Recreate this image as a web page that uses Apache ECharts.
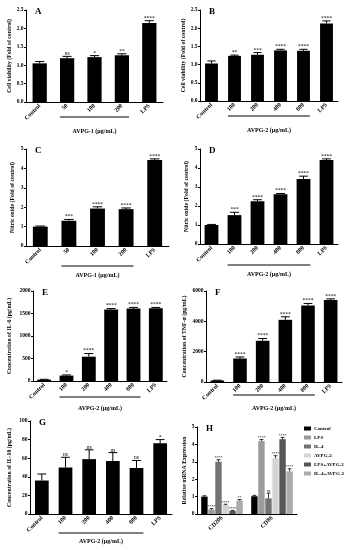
<!DOCTYPE html>
<html><head><meta charset="utf-8">
<script src="https://cdn.jsdelivr.net/npm/echarts@6/dist/echarts.min.js"></script>
<style>html,body{margin:0;padding:0;background:#fff}#c{width:349px;height:550px}</style>
</head><body><div id="c"></div>
<script>
// ---------- DATA ----------
const catsA = ['Control','50','100','200','LPS'];
const valsA = [1.05,1.19,1.22,1.27,2.15];
const errsA = [0.05,0.05,0.04,0.04,0.06];
const sigsA = ['','ns','*','**','****'];
const yAxisA = [0,2.5,0.5];

const catsB = ['Control','100','200','400','800','LPS'];
const valsB = [1.03,1.24,1.27,1.39,1.38,2.13];
const errsB = [0.07,0.02,0.06,0.03,0.04,0.07];
const sigsB = ['','**','***','****','****','****'];
const yAxisB = [0,2.5,0.5];

const catsC = ['Control','50','100','200','LPS'];
const valsC = [1.0,1.3,1.93,1.9,4.43];
const errsC = [0.03,0.07,0.09,0.06,0.06];
const sigsC = ['','***','****','****','****'];
const yAxisC = [0,5,1];

const catsD = ['Control','100','200','400','800','LPS'];
const valsD = [1.0,1.52,2.25,2.62,3.42,4.42];
const errsD = [0.03,0.15,0.08,0.04,0.15,0.06];
const sigsD = ['','***','****','****','****','****'];
const yAxisD = [0,5,1];

const catsE = ['Control','100','200','400','800','LPS'];
const valsE = [30,120,540,1590,1610,1615];
const errsE = [8,15,70,20,25,20];
const sigsE = ['','*','****','****','****','****'];
const yAxisE = [0,2000,500];

const catsF = ['Control','100','200','400','800','LPS'];
const valsF = [100,1550,2720,4100,5050,5400];
const errsF = [20,100,150,200,130,80];
const sigsF = ['','****','****','****','****','****'];
const yAxisF = [0,6000,2000];

const catsG = ['Control','100','200','400','800','LPS'];
const valsG = [36,50,59,57,49.5,76];
const errsG = [7,11,10,9,8,4];
const sigsG = ['','ns','ns','ns','ns','*'];
const yAxisG = [0,100,20];

const catsH = ['CD206','CD86'];
const groupsH = ['Control','LPS','IL-4','AVPG-2','LPS+AVPG-2','IL-4+AVPG-2'];
const valsH = [[1.0,1.02],[0.25,4.2],[3.0,0.9],[0.5,3.2],[0.18,4.3],[0.78,2.45]];
const errsH = [[0.05,0.05],[0.06,0.08],[0.12,0.3],[0.06,0.15],[0.03,0.1],[0.05,0.15]];
const sigsH = [['',''],['****','****'],['****','ns'],['****','****'],['****','****'],['**','****']];
const yAxisH = [0,5,1];

// ---------- PANEL META ----------
const panels = [
 {letter:'A',cats:catsA,vals:valsA,errs:errsA,sigs:sigsA,ax:yAxisA,dec:1,yName:'Cell viability (Fold of control)',xName:'AVPG-1 (μg/mL)'},
 {letter:'B',cats:catsB,vals:valsB,errs:errsB,sigs:sigsB,ax:yAxisB,dec:1,yName:'Cell viability (Fold of control)',xName:'AVPG-2 (μg/mL)'},
 {letter:'C',cats:catsC,vals:valsC,errs:errsC,sigs:sigsC,ax:yAxisC,dec:0,yName:'Nitric oxide (Fold of control)',xName:'AVPG-1 (μg/mL)'},
 {letter:'D',cats:catsD,vals:valsD,errs:errsD,sigs:sigsD,ax:yAxisD,dec:0,yName:'Nitric oxide (Fold of control)',xName:'AVPG-2 (μg/mL)'},
 {letter:'E',cats:catsE,vals:valsE,errs:errsE,sigs:sigsE,ax:yAxisE,dec:0,yName:'Concentration of IL-6 (pg/mL)',xName:'AVPG-2 (μg/mL)'},
 {letter:'F',cats:catsF,vals:valsF,errs:errsF,sigs:sigsF,ax:yAxisF,dec:0,yName:'Concentration of TNF-α (pg/mL)',xName:'AVPG-2 (μg/mL)'},
 {letter:'G',cats:catsG,vals:valsG,errs:errsG,sigs:sigsG,ax:yAxisG,dec:0,yName:'Concentration of IL-10 (pg/mL)',xName:'AVPG-2 (μg/mL)'},
 {letter:'H',cats:catsH,ax:yAxisH,dec:0,yName:'Relative mRNA Expression'}
];

// ---------- LAYOUT / STYLE ----------
const layout = [
 {left:26,top:10,width:137,height:92,bw:0.52,lineOff:15,titleOff:29,nameGap:13},
 {left:200,top:10,width:138,height:91,bw:0.56,lineOff:15,titleOff:29,nameGap:13},
 {left:26,top:149,width:143,height:97,bw:0.52,lineOff:20,titleOff:29,nameGap:10},
 {left:200,top:149,width:138,height:95,bw:0.6,lineOff:21,titleOff:30,nameGap:10},
 {left:33,top:291,width:134,height:90,bw:0.62,lineOff:16,titleOff:27,nameGap:20},
 {left:206,top:291,width:136,height:91,bw:0.6,lineOff:13,titleOff:26,nameGap:18},
 {left:30,top:421,width:142,height:93,bw:0.58,lineOff:19,titleOff:27,nameGap:17},
 {left:197,top:427,width:100,height:87,bw:0,lineOff:0,titleOff:0,nameGap:6}
];
const hColors = ['#000000','#9c9c9c','#727272','#d4d4d4','#565656','#ababab'];
const FONT = 'Liberation Serif';
const hBarW = 6.4, hGap = 0.1;

const grids = [], xAxes = [], yAxes = [], series = [];
panels.forEach((p, i) => {
  const L = layout[i];
  grids.push({left:L.left, top:L.top, width:L.width, height:L.height});
  xAxes.push({type:'category', gridIndex:i, data:p.cats,
    axisLine:{lineStyle:{color:'#000',width:1}}, axisTick:{show:false},
    axisLabel:{rotate:45, fontFamily:FONT, fontWeight:'bold', fontSize:6, color:'#000', margin:3, interval:0}});
  yAxes.push({type:'value', gridIndex:i, min:p.ax[0], max:p.ax[1], interval:p.ax[2],
    splitLine:{show:false},
    axisLine:{show:true, lineStyle:{color:'#000',width:1}},
    axisTick:{show:true, length:2, lineStyle:{color:'#000'}},
    axisLabel:{fontFamily:FONT, fontWeight:'bold', fontSize:5.5, color:'#000', margin:2.5,
      formatter: v => v.toFixed(p.dec)},
    name:p.yName, nameLocation:'middle', nameRotate:90, nameGap:L.nameGap,
    nameTextStyle:{fontFamily:FONT, fontWeight:'bold', fontSize:5.8, color:'#000'}});
  if (p.letter !== 'H') {
    series.push({type:'bar', xAxisIndex:i, yAxisIndex:i, data:p.vals,
      barWidth:(L.bw*100)+'%', itemStyle:{color:'#000'}, silent:true});
    series.push({type:'custom', xAxisIndex:i, yAxisIndex:i, silent:true, z:5,
      data:p.vals.map((v,k)=>[k, v, p.errs[k]]),
      renderItem:(params, api) => {
        const k = api.value(0), v = api.value(1), e = api.value(2);
        const a = api.coord([k, v]), b = api.coord([k, v + e]);
        const band = api.size([1, 0])[0];
        const cw = band * L.bw * 0.32;
        return {type:'group', children:[
          {type:'line', shape:{x1:a[0],y1:a[1],x2:b[0],y2:b[1]}, style:{stroke:'#000',lineWidth:1}},
          {type:'line', shape:{x1:b[0]-cw,y1:b[1],x2:b[0]+cw,y2:b[1]}, style:{stroke:'#000',lineWidth:1}},
          {type:'text', x:b[0], y:b[1]+0.5, style:{text:p.sigs[params.dataIndex], fontSize:5.5, fontFamily:FONT, fill:'#000', align:'center', verticalAlign:'bottom'}}
        ]};
      }});
  } else {
    groupsH.forEach((g, s) => {
      series.push({type:'bar', name:g, xAxisIndex:i, yAxisIndex:i, data:valsH[s],
        barWidth:hBarW, barGap:(hGap*100)+'%', itemStyle:{color:hColors[s]}, silent:true});
    });
    groupsH.forEach((g, s) => {
      series.push({type:'custom', xAxisIndex:i, yAxisIndex:i, silent:true, z:5,
        data:valsH[s].map((v,k)=>[k, v, errsH[s][k]]),
        renderItem:(params, api) => {
          const k = api.value(0), v = api.value(1), e = api.value(2);
          const off = (s - (groupsH.length-1)/2) * hBarW * (1 + hGap);
          const a = api.coord([k, v]), b = api.coord([k, v + e]);
          const x = a[0] + off, cw = hBarW * 0.3;
          return {type:'group', children:[
            {type:'line', shape:{x1:x,y1:a[1],x2:x,y2:b[1]}, style:{stroke:'#000',lineWidth:0.8}},
            {type:'line', shape:{x1:x-cw,y1:b[1],x2:x+cw,y2:b[1]}, style:{stroke:'#000',lineWidth:0.8}},
            {type:'text', x:x, y:b[1]+0.3, style:{text:sigsH[s][params.dataIndex], fontSize:4, fontFamily:FONT, fill:'#000', align:'center', verticalAlign:'bottom'}}
          ]};
        }});
    });
  }
});

const option = {
  animation:false,
  backgroundColor:'#fff',
  grid:grids, xAxis:xAxes, yAxis:yAxes, series:series,
  legend:{data:groupsH, orient:'vertical', left:299, top:421, itemWidth:7, itemHeight:4, itemGap:4,
    icon:'rect', selectedMode:false,
    textStyle:{fontFamily:FONT, fontWeight:'bold', fontSize:5, color:'#000', padding:[0,0,0,-2]}}
};

const chart = echarts.init(document.getElementById('c'), null, {renderer:'canvas'});
chart.setOption(option);

// decorations: panel letters, dose underline and its title
const gfx = [];
panels.forEach((p, i) => {
  const L = layout[i];
  gfx.push({type:'text', left:L.left + 9, top:L.top - 3,
    style:{text:p.letter, fontFamily:FONT, fontWeight:'bold', fontSize:9, fill:'#000'}});
  if (p.letter === 'H') return;
  const first = 1, last = p.cats.length - 2;
  const p1 = chart.convertToPixel({gridIndex:i}, [first, 0]);
  const p2 = chart.convertToPixel({gridIndex:i}, [last, 0]);
  const p3 = chart.convertToPixel({gridIndex:i}, [first + 1, 0]);
  const band = p3[0] - p1[0];
  const x1 = p1[0] - band * L.bw / 2, x2 = p2[0] + band * L.bw / 2;
  const yb = L.top + L.height;
  gfx.push({type:'line', shape:{x1:x1, y1:yb + L.lineOff, x2:x2, y2:yb + L.lineOff}, style:{stroke:'#000', lineWidth:1}});
  gfx.push({type:'text', x:(x1 + x2) / 2, y:yb + L.titleOff,
    style:{text:p.xName, fontFamily:FONT, fontWeight:'bold', fontSize:6, fill:'#000', align:'center', verticalAlign:'middle'}});
});
chart.setOption({graphic:gfx});
</script></body></html>
